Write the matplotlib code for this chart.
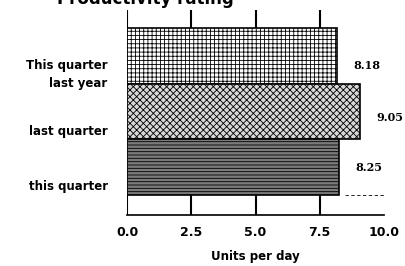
import matplotlib
matplotlib.use("Agg")
import matplotlib.pyplot as plt
import matplotlib.transforms as mtransforms

categories = ["This quarter\nlast year", "last quarter", "this quarter"]
values = [8.18, 9.05, 8.25]
value_labels = ["8.18", "9.05", "8.25"]
xticks = [0.0, 2.5, 5.0, 7.5, 10.0]
xtick_labels = ["0.0", "2.5", "5.0", "7.5", "10.0"]
xlabel = "Units per day"
title = "Productivity rating"

plt.rcParams['hatch.linewidth'] = 0.6
fig = plt.figure(figsize=(4.05, 2.66), dpi=100)
ax = fig.add_axes([0.314, 0.192, 0.634, 0.770])

positions = [2, 1, 0]
hatches = ["++++", "xxxxx", "-----"]
faces = ["white", "#d8d8d8", "#7a7a7a"]
for p, v, h, fc in zip(positions, values, hatches, faces):
    ax.barh(p, v, height=1.0, color=fc, edgecolor="black", hatch=h, linewidth=1.2, zorder=3)

for p, v, lab, dy in zip(positions, values, value_labels, [7, 4, 0]):
    ax.annotate(lab, xy=(v, p), xytext=(12, -dy), textcoords="offset points",
                ha="left", va="center", fontsize=8, fontweight="bold", family="DejaVu Serif")

ax.set_xlim(0, 10)
ax.set_ylim(-0.86, 2.83)
ax.set_xticks(xticks)
ax.set_xticklabels(xtick_labels, fontsize=9, fontweight="bold")
for x in xticks[:-1]:
    ax.axvline(x, color="black", lw=1.5, zorder=1)
ax.set_yticks([])
lab_trans = mtransforms.blended_transform_factory(ax.transAxes, ax.transData)
for p, cat, dy in zip(positions, categories, [13, 14, 14]):
    ax.annotate(cat, xy=(0, p), xycoords=lab_trans, xytext=(-14, -dy), textcoords="offset points",
                ha="right", va="center", fontsize=8.5, fontweight="bold", linespacing=1.5,
                multialignment="right")
ax.tick_params(axis="both", length=0)
ax.tick_params(axis="x", pad=8)
ax.set_xlabel(xlabel, fontsize=8.5, fontweight="bold", labelpad=8)
for s in ["top", "right", "left"]:
    ax.spines[s].set_visible(False)
ax.spines["bottom"].set_linewidth(1.2)
ax.spines["bottom"].set_bounds(0, 10)

ax.axhline(-0.5, xmin=0.85, xmax=1.0, color="black", lw=0.6, ls=(0, (4, 3)), zorder=2, clip_on=False)

fig.text(0.36, 0.985, title, ha="center", va="baseline", fontsize=12, fontweight="bold")

fig.savefig("out.png", dpi=100)
